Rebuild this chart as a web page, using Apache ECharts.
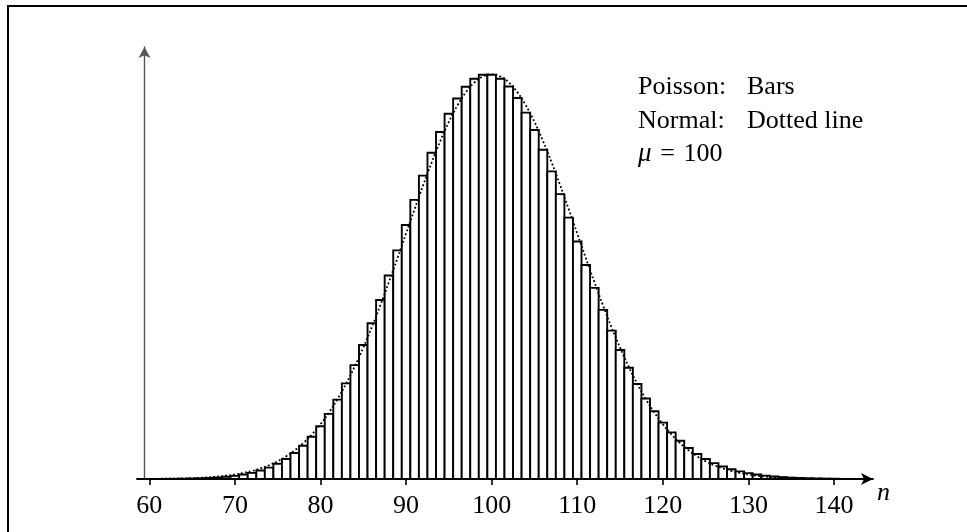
<!DOCTYPE html>
<html>
<head>
<meta charset="utf-8">
<script src="https://cdn.jsdelivr.net/npm/echarts@6/dist/echarts.min.js"></script>
<style>html,body{margin:0;padding:0;background:#fff;}#chart{width:967px;height:532px;}</style>
</head>
<body>
<div id="chart"></div>
<script>
var nValues = [60,61,62,63,64,65,66,67,68,69,70,71,72,73,74,75,76,77,78,79,80,81,82,83,84,85,86,87,88,89,90,91,92,93,94,95,96,97,98,99,100,101,102,103,104,105,106,107,108,109,110,111,112,113,114,115,116,117,118,119,120,121,122,123,124,125,126,127,128,129,130,131,132,133,134,135,136,137,138,139,140];
var poisson = [0.0000045,0.0000073,0.0000118,0.0000188,0.0000293,0.0000451,0.0000683,0.000102,0.000150,0.000217,
  0.000311,0.000437,0.000608,0.000832,0.001125,0.001500,0.001973,0.002562,0.003285,0.004158,
  0.005198,0.006417,0.007826,0.009428,0.011224,0.013205,0.015355,0.017649,0.020056,0.022535,
  0.025039,0.027515,0.029908,0.032159,0.034211,0.036012,0.037513,0.038673,0.039462,0.039861,
  0.039861,0.039466,0.038692,0.037565,0.036120,0.034400,0.032453,0.030330,0.028083,0.025764,
  0.023422,0.021101,0.018840,0.016673,0.014625,0.012718,0.010964,0.009371,0.007941,0.006673,
  0.005561,0.004596,0.003767,0.003063,0.002470,0.001976,0.001568,0.001235,0.000965,0.000748,
  0.000575,0.000439,0.000333,0.000250,0.000187,0.000138,0.000102,0.0000743,0.0000538,0.0000387,0.0000277];
var normal = [0.0000134,0.0000199,0.0000292,0.0000425,0.0000612,0.0000873,0.000123,0.000172,0.000238,0.000327,
  0.000443,0.000595,0.000792,0.001042,0.001358,0.001753,0.002239,0.002833,0.003547,0.004398,
  0.005399,0.006562,0.007895,0.009405,0.011092,0.012952,0.014973,0.017137,0.019419,0.021785,
  0.024197,0.026609,0.028969,0.031225,0.033322,0.035207,0.036827,0.038139,0.039104,0.039695,
  0.039894,0.039695,0.039104,0.038139,0.036827,0.035207,0.033322,0.031225,0.028969,0.026609,
  0.024197,0.021785,0.019419,0.017137,0.014973,0.012952,0.011092,0.009405,0.007895,0.006562,
  0.005399,0.004398,0.003547,0.002833,0.002239,0.001753,0.001358,0.001042,0.000792,0.000595,
  0.000443,0.000327,0.000238,0.000172,0.000123,0.0000873,0.0000612,0.0000425,0.0000292,0.0000199,0.0000134];
var xTickLabels = [60,70,80,90,100,110,120,130,140];
var legendLines = [["Poisson:", "Bars"], ["Normal:", "Dotted line"]];
var muText = "100";

var FONT = "'Liberation Serif','DejaVu Serif',serif";
var chart = echarts.init(document.getElementById('chart'), null, {renderer:'canvas'});

var barData = nValues.map(function(n,i){ return [n, poisson[i]]; });
var normData = nValues.map(function(n,i){ return [n, normal[i]]; });

var graphics = [
  {type:'rect', shape:{x:8, y:6, width:1100, height:700}, style:{fill:'none', stroke:'#000', lineWidth:2}, silent:true, z:0}
];
legendLines.forEach(function(pair, k){
  var y = 87 + k*34;
  graphics.push({type:'text', x:638, y:y, style:{text:pair[0], font:"26px " + FONT, fill:'#000', verticalAlign:'middle', align:'left'}});
  graphics.push({type:'text', x:747, y:y, style:{text:pair[1], font:"26px " + FONT, fill:'#000', verticalAlign:'middle', align:'left'}});
});
graphics.push({type:'text', x:638, y:154, style:{
  text:'{i|μ}\u2004=\u2004' + muText, font:"26px " + FONT, fill:'#000', verticalAlign:'middle', align:'left',
  rich:{i:{fontStyle:'italic', fontSize:27, fontFamily:FONT}}
}});
graphics.push({type:'text', x:877, y:493, style:{text:'n', font:"italic 26px " + FONT, fill:'#000', verticalAlign:'middle', align:'left'}});

chart.setOption({
  animation:false,
  backgroundColor:'#fff',
  grid:{left:137, right:94, top:47, bottom:53, containLabel:false},
  xAxis:{
    type:'value', min:58.563, max:144.556,
    axisLine:{show:true, symbol:['none','arrow'], symbolSize:[9,12], lineStyle:{color:'#000', width:1.8}},
    axisTick:{show:true, inside:false, length:6, lineStyle:{color:'#000', width:1.6}, customValues:xTickLabels},
    axisLabel:{show:true, margin:14, fontSize:26, fontFamily:FONT, color:'#000', customValues:xTickLabels},
    splitLine:{show:false}
  },
  yAxis:{
    type:'value', min:0, max:0.04259, offset:-7.5,
    axisLine:{show:true, onZero:false, symbol:['none','arrow'], symbolSize:[9,11], lineStyle:{color:'#555', width:1.4}},
    axisTick:{show:false}, axisLabel:{show:false}, splitLine:{show:false}
  },
  graphic:graphics,
  series:[
    {
      type:'custom', name:'Poisson', data:barData, encode:{x:0, y:1}, z:2,
      renderItem:function(params, api){
        var n = api.value(0), v = api.value(1);
        var p1 = api.coord([n-0.5, v]);
        var p2 = api.coord([n+0.5, 0]);
        return {type:'rect', shape:{x:p1[0], y:p1[1], width:p2[0]-p1[0], height:p2[1]-p1[1]},
          style:{fill:'#fff', stroke:'#000', lineWidth:1.9}};
      }
    },
    {
      type:'line', name:'Normal', data:normData, smooth:0.4, showSymbol:false, z:3,
      lineStyle:{color:'#000', width:1.8, type:[1.8,2.2]}
    }
  ]
});
</script>
</body>
</html>
